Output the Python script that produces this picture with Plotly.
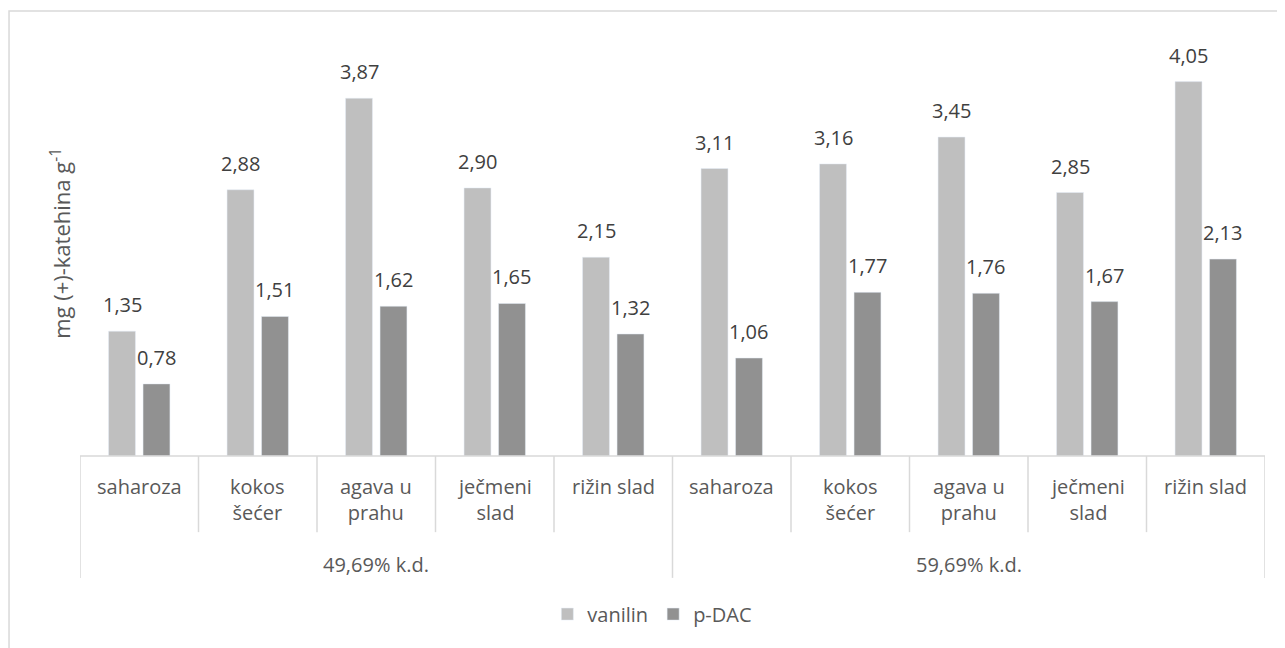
import plotly.graph_objects as go

groups = ["49,69% k.d.", "59,69% k.d."]
categories = ["saharoza", "kokos<br>šećer", "agava u<br>prahu", "ječmeni<br>slad", "rižin slad"]
vanilin = [1.35, 2.88, 3.87, 2.90, 2.15, 3.11, 3.16, 3.45, 2.85, 4.05]
pdac = [0.78, 1.51, 1.62, 1.65, 1.32, 1.06, 1.77, 1.76, 1.67, 2.13]
series = [("vanilin", vanilin, "#BFBFBF"), ("p-DAC", pdac, "#919191")]

labels = [c for g in groups for c in categories]
xs = list(range(len(labels)))

FONT = "Open Sans"
TXT = "#595959"
LINE = "#D9D9D9"
BARGAP = 0.418
BARGROUPGAP = 0.22

def fmt(v):
    return f"{v:.2f}".replace(".", ",")

fig = go.Figure()
shapes = []
annotations = []
nser = len(series)
slot = (1 - BARGAP) / nser
for si, (name, vals, col) in enumerate(series):
    fig.add_trace(go.Bar(x=xs, y=vals, name=name, marker_color=col))
    off = -(1 - BARGAP) / 2 + slot * (si + 0.5)
    for i, v in enumerate(vals):
        annotations.append(dict(x=i + off, y=v, xref="x", yref="y", text=fmt(v), showarrow=False,
                                yanchor="bottom", xanchor="center", yshift=11,
                                font=dict(size=20, color="#404040", family=FONT)))

n = len(labels)
per = len(categories)
# axis line
shapes.append(dict(type="line", xref="x", yref="paper", x0=-0.5, x1=n - 0.5, y0=0, y1=0,
                   line=dict(color=LINE, width=1.5)))
# category dividers
for i in range(n + 1):
    b = i - 0.5
    outer = (i % per == 0)
    shapes.append(dict(type="line", xref="x", yref="paper", x0=b, x1=b, y0=0,
                       y1=-0.293 if outer else -0.183, line=dict(color=LINE, width=1.5)))
for i, lab in enumerate(labels):
    annotations.append(dict(x=i, y=-0.036, xref="x", yref="paper", text=lab, showarrow=False,
                            yanchor="top", xanchor="center",
                            font=dict(size=20, color=TXT, family=FONT)))
for gi, g in enumerate(groups):
    annotations.append(dict(x=gi * per + (per - 1) / 2, y=-0.262, xref="x", yref="paper", text=g,
                            showarrow=False, yanchor="middle", xanchor="center",
                            font=dict(size=20, color=TXT, family=FONT)))
annotations.append(dict(x=-0.017, y=0.512, xref="paper", yref="paper",
                        text="mg (+)-katehina g<sup>-1</sup>", textangle=-90, showarrow=False,
                        xanchor="center", yanchor="middle",
                        font=dict(size=22, color=TXT, family=FONT)))
# chart border
shapes.append(dict(type="rect", xref="paper", yref="paper", x0=-0.0599, x1=1.03, y0=-0.5, y1=1.0697,
                   line=dict(color=LINE, width=1.5), layer="below"))

fig.update_layout(
    width=1277, height=640,
    margin=dict(l=72, r=20, t=32, b=192),
    paper_bgcolor="white", plot_bgcolor="white",
    barmode="group", bargap=BARGAP, bargroupgap=BARGROUPGAP,
    xaxis=dict(range=[-0.5, n - 0.5], showticklabels=False, showgrid=False, zeroline=False,
               showline=False, ticks=""),
    yaxis=dict(range=[0, 4.5], visible=False),
    legend=dict(orientation="h", x=0.483, xanchor="center", y=-0.38, yanchor="middle",
                font=dict(size=20, color=TXT, family=FONT), itemwidth=30,
                traceorder="normal"),
    shapes=shapes, annotations=annotations,
    font=dict(family=FONT, color=TXT),
)
fig.write_html("out.html")
